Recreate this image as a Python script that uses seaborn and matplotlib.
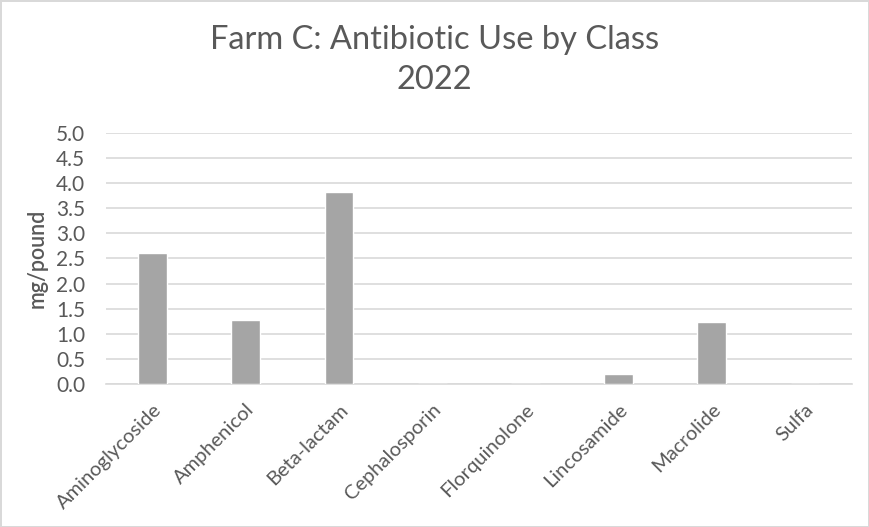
import matplotlib
matplotlib.use("Agg")
import matplotlib.pyplot as plt
import seaborn as sns
import pandas as pd

classes = ["Aminoglycoside", "Amphenicol", "Beta-lactam", "Cephalosporin",
           "Florquinolone", "Lincosamide", "Macrolide", "Sulfa"]
mg_per_pound = [2.60, 1.27, 3.83, 0.0, 0.0, 0.21, 1.24, 0.0]
y_ticks = [0.0, 0.5, 1.0, 1.5, 2.0, 2.5, 3.0, 3.5, 4.0, 4.5, 5.0]

TEXT = "#595959"
GRID = "#d9d9d9"

sns.set_theme(style="white")
plt.rcParams["font.family"] = ["Lato", "DejaVu Sans"]

df = pd.DataFrame({"cls": classes, "val": mg_per_pound})

fig = plt.figure(figsize=(8.69, 5.27), dpi=100)
fig.patch.set_edgecolor(GRID)
fig.patch.set_linewidth(2)
ax = fig.add_axes([0.122, 0.271, 0.858, 0.477])

sns.barplot(data=df, x="cls", y="val", color="#a5a5a5", width=0.31,
            saturation=1, ax=ax, zorder=3)

ax.set_ylim(0, 5)
ax.set_yticks(y_ticks)
ax.set_yticklabels([f"{t:.1f}" for t in y_ticks])
ax.yaxis.grid(True, color=GRID, linewidth=1.2, zorder=0)
ax.set_axisbelow(True)
for s in ["top", "right", "left"]:
    ax.spines[s].set_visible(False)
ax.spines["bottom"].set_color(GRID)
ax.spines["bottom"].set_linewidth(1.2)
ax.tick_params(axis="y", length=0, pad=15, labelsize=15, labelcolor=TEXT)
ax.tick_params(axis="x", length=0, pad=12, labelsize=14.5, labelcolor=TEXT)
plt.setp(ax.get_xticklabels(), rotation=45, ha="right", rotation_mode="anchor")

ax.set_xlabel("")
ax.set_ylabel("mg/pound", fontsize=15.5, color=TEXT, labelpad=6,
              fontweight="semibold")

fig.text(0.5, 1 - 40 / 527, "Farm C: Antibiotic Use by Class", ha="center",
         va="center", fontsize=23.5, color=TEXT)
fig.text(0.5, 1 - 80 / 527, "2022", ha="center", va="center",
         fontsize=23.5, color=TEXT)

fig.savefig("out.png", dpi=100)
plt.close(fig)
